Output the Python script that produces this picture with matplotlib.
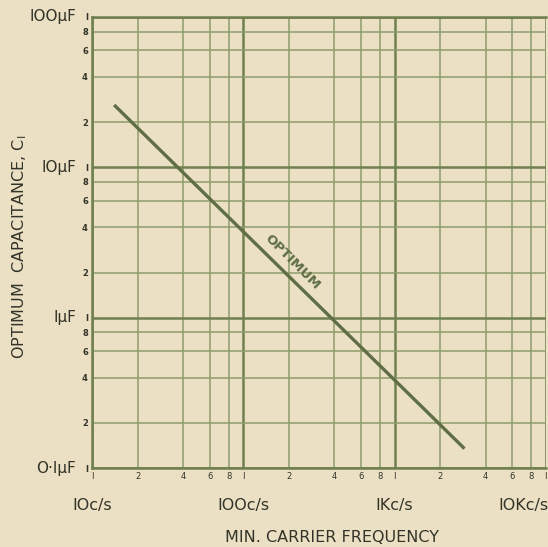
import matplotlib
matplotlib.use("Agg")
import matplotlib.pyplot as plt
import matplotlib.transforms as mtransforms

# data
freq = [14, 2900]          # c/s
cap = [26, 0.135]          # uF
decades_x = [10, 100, 1000, 10000]
decade_x_labels = ["IOc/s", "IOOc/s", "IKc/s", "IOKc/s"]
decades_y = [0.1, 1, 10, 100]
decade_y_labels = ["O·I\u00b5F", "I\u00b5F", "IO\u00b5F", "IOO\u00b5F"]
steps = [2, 4, 6, 8]

bg = "#ebe0c4"
major_c = "#6f7f50"
minor_c = "#8e9d6c"
line_c = "#5f6e45"
text_c = "#333328"

fig = plt.figure(figsize=(5.48, 5.47), dpi=100)
fig.patch.set_facecolor(bg)
ax = fig.add_axes([0.168, 0.144, 0.828, 0.825])
ax.set_facecolor(bg)
ax.set_xscale("log")
ax.set_yscale("log")
ax.set_xlim(10, 10000)
ax.set_ylim(0.1, 100)

# grid
minor_x = [d * s for d in decades_x[:-1] for s in steps]
minor_y = [d * s for d in decades_y[:-1] for s in steps]
for v in minor_x:
    ax.axvline(v, color=minor_c, lw=1.1, zorder=1)
for v in decades_x:
    ax.axvline(v, color=major_c, lw=1.8, zorder=1)
for v in minor_y:
    ax.axhline(v, color=minor_c, lw=1.1, zorder=1)
for v in decades_y:
    ax.axhline(v, color=major_c, lw=1.8, zorder=1)

for sp in ax.spines.values():
    sp.set_color(major_c)
    sp.set_linewidth(1.8)
ax.spines["right"].set_visible(False)

ax.plot(freq, cap, color=line_c, lw=2.4, solid_capstyle="butt", zorder=3)
ax.text(212, 2.35, "OPTIMUM", rotation=-45, rotation_mode="anchor",
        ha="center", va="center", fontsize=9.5, color=line_c,
        fontweight="bold", zorder=4)

# ticks as small numbers
ax.tick_params(which="both", length=0)
ax.set_xticks(decades_x + minor_x)
ax.set_xticklabels(["I"] * len(decades_x) + [str(s) for d in decades_x[:-1] for s in steps],
                   fontsize=6, color=text_c)
ax.set_xticks([], minor=True)
ax.set_yticks(decades_y + minor_y)
ax.set_yticklabels(["I"] * len(decades_y) + [str(s) for d in decades_y[:-1] for s in steps],
                   fontsize=6, color=text_c, fontweight="bold")
ax.set_yticks([], minor=True)
ax.tick_params(axis="x", pad=3)
ax.tick_params(axis="y", pad=3)

ty = mtransforms.blended_transform_factory(ax.transAxes, ax.transData)
for v, lab in zip(decades_y, decade_y_labels):
    ax.text(-0.035, v, lab, transform=ty, ha="right", va="center",
            fontsize=11, color=text_c)

tx = mtransforms.blended_transform_factory(ax.transData, ax.transAxes)
for v, lab in zip(decades_x[:-1], decade_x_labels[:-1]):
    ax.text(v, -0.082, lab, transform=tx, ha="center", va="center",
            fontsize=11.5, color=text_c)
ax.text(1.005, -0.082, decade_x_labels[-1], transform=ax.transAxes,
        ha="right", va="center", fontsize=11.5, color=text_c)

fig.text(0.605, 0.017, "MIN. CARRIER FREQUENCY", ha="center", va="center",
         fontsize=11.5, color=text_c)
fig.text(0.035, 0.548, "OPTIMUM  CAPACITANCE, C$_\\mathregular{I}$",
         rotation=90, ha="center", va="center", fontsize=11.5, color=text_c)

fig.savefig("out.png", dpi=100, facecolor=bg)
